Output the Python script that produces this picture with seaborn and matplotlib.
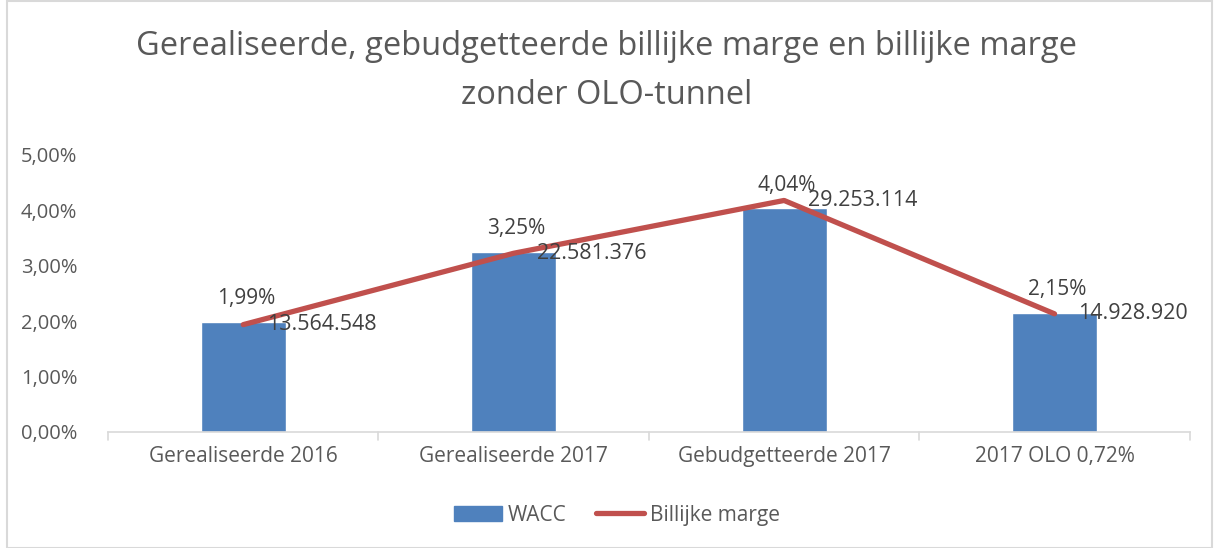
import seaborn as sns
import matplotlib.pyplot as plt
import matplotlib.patches as mpatches
from matplotlib.lines import Line2D
import pandas as pd
import numpy as np

sns.set_style("white")
plt.rcParams['font.family'] = ['Open Sans', 'DejaVu Sans']

categories = ["Gerealiseerde 2016", "Gerealiseerde 2017", "Gebudgetteerde 2017", "2017 OLO 0,72%"]
wacc = [1.99, 3.25, 4.04, 2.15]
marge = [13564548, 22581376, 29253114, 14928920]
wacc_labels = ["1,99%", "3,25%", "4,04%", "2,15%"]
marge_labels = ["13.564.548", "22.581.376", "29.253.114", "14.928.920"]
yticks = [0, 1, 2, 3, 4, 5]

df = pd.DataFrame({"cat": categories, "wacc": wacc, "marge": marge, "pos": range(len(categories))})

blue = "#4f81bd"
red = "#c0504d"
grey = "#595959"
axcol = "#d9d9d9"

fig = plt.figure(figsize=(12.14, 5.48), dpi=100)
ax = fig.add_axes([0.089, 0.2117, 0.891, 0.5055])

sns.barplot(data=df, x="cat", y="wacc", color=blue, width=0.315, saturation=1, ax=ax)
ax.set_ylim(0, 5)
ax.set_xlim(-0.5, 3.5)
ax.set_yticks(yticks)
ax.set_yticklabels([f"{t},00%" for t in yticks], fontsize=14.5, color=grey)
ax.set_xticklabels(categories, fontsize=15, color=grey)
ax.set_xlabel("")
ax.set_ylabel("")
for s in ["top", "right", "left"]:
    ax.spines[s].set_visible(False)
ax.spines["bottom"].set_color(axcol)
ax.spines["bottom"].set_linewidth(1.2)
ax.tick_params(axis="y", length=0, pad=22)
ax.tick_params(axis="x", length=0, pad=10)
# category separators
for xb in np.arange(-0.5, 4, 1):
    ax.plot([xb, xb], [0, -0.14], color=axcol, lw=1.2, clip_on=False)

for i, v in enumerate(wacc):
    ax.annotate(wacc_labels[i], (i, v), xytext=(2, 9), textcoords="offset points",
                ha="center", va="bottom", fontsize=15, color="#404040")

ax2 = ax.twinx()
sns.lineplot(data=df, x="pos", y="marge", color=red, lw=3.8, ax=ax2, legend=False)
ax2.lines[0].set_solid_capstyle("round")
ax2.set_ylim(0, 35000000)
ax2.set_xlim(-0.5, 3.5)
ax2.axis("off")
for i, v in enumerate(marge):
    ax2.annotate(marge_labels[i], (i, v), xytext=(17, 0), textcoords="offset points",
                 ha="left", va="center", fontsize=15.5, color="#404040")

fig.suptitle("Gerealiseerde, gebudgetteerde billijke marge en billijke marge\nzonder OLO-tunnel",
             y=0.945, fontsize=23.5, color=grey, linespacing=1.65)

handles = [mpatches.Patch(color=blue, label="WACC"),
           Line2D([0], [0], color=red, lw=3.8, solid_capstyle="round", label="Billijke marge")]
leg = fig.legend(handles=handles, loc="center", bbox_to_anchor=(0.508, 0.06), ncol=2,
                 frameon=False, fontsize=15, handlelength=2.3, handletextpad=0.3, columnspacing=1.4)
for t in leg.get_texts():
    t.set_color(grey)

fig.patches.append(mpatches.Rectangle((0.006, 0.0), 0.992, 0.998, transform=fig.transFigure,
                                      fill=False, edgecolor=axcol, lw=1.5))

fig.savefig("out.png", dpi=100)
